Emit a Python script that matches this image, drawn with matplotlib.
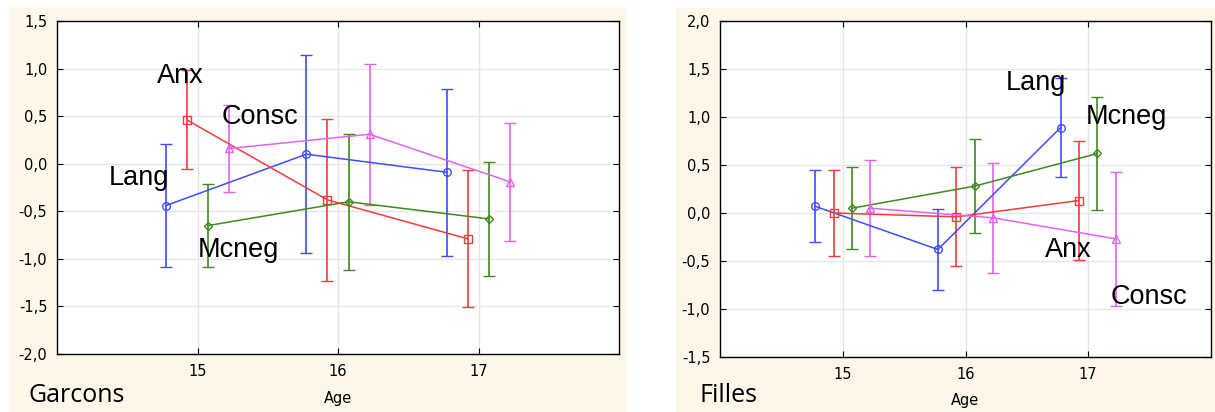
import numpy as np
import matplotlib
matplotlib.use("Agg")
import matplotlib.pyplot as plt
from matplotlib.patches import Rectangle
from matplotlib.ticker import FuncFormatter

# data: means and half-widths of the error bars
ages = [15, 16, 17]
series = ["Lang", "Anx", "Mcneg", "Consc"]

garcons_mean = {
    "Lang":  [-0.44, 0.10, -0.09],
    "Anx":   [0.46, -0.38, -0.79],
    "Mcneg": [-0.65, -0.40, -0.58],
    "Consc": [0.16, 0.31, -0.19],
}
garcons_err = {
    "Lang":  [0.645, 1.04, 0.875],
    "Anx":   [0.52, 0.85, 0.72],
    "Mcneg": [0.44, 0.715, 0.60],
    "Consc": [0.455, 0.74, 0.62],
}
filles_mean = {
    "Lang":  [0.07, -0.38, 0.89],
    "Anx":   [0.00, -0.04, 0.13],
    "Mcneg": [0.05, 0.28, 0.62],
    "Consc": [0.05, -0.05, -0.27],
}
filles_err = {
    "Lang":  [0.375, 0.425, 0.515],
    "Anx":   [0.45, 0.515, 0.62],
    "Mcneg": [0.43, 0.49, 0.59],
    "Consc": [0.50, 0.575, 0.70],
}

colors = {"Lang": "#3f4cff", "Anx": "#f03c3c", "Mcneg": "#3f8a1e", "Consc": "#e462f2"}
markers = {"Lang": "o", "Anx": "s", "Mcneg": "D", "Consc": "^"}
msize = {"Lang": 5.5, "Anx": 5.5, "Mcneg": 4, "Consc": 5.5}
offsets = {"Lang": -0.225, "Anx": -0.075, "Mcneg": 0.075, "Consc": 0.225}

garcons_labels = {"Anx": (14.71, 0.92), "Consc": (15.17, 0.49),
                  "Lang": (14.37, -0.15), "Mcneg": (15.0, -0.91)}
filles_labels = {"Lang": (16.33, 1.35), "Mcneg": (16.98, 1.0),
                 "Anx": (16.65, -0.385), "Consc": (17.18, -0.87)}

cream = "#fdf7ea"
W, H = 1215, 412
fig = plt.figure(figsize=(W / 100, H / 100), dpi=100)
fig.patch.set_facecolor("white")

# cream panels behind each chart
fig.patches.append(Rectangle((9 / W, 0), (625 - 9) / W, 1 - 7 / H,
                             transform=fig.transFigure, color=cream, zorder=-10))
fig.patches.append(Rectangle((676 / W, 0), (1215 - 676) / W, 1 - 8 / H,
                             transform=fig.transFigure, color=cream, zorder=-10))

comma = FuncFormatter(lambda v, p: f"{v:.1f}".replace(".", ","))


def draw(ax, means, errs, labels, ylim, yticks):
    ax.set_facecolor("white")
    for s in series:
        x = np.array(ages) + offsets[s]
        ax.errorbar(x, means[s], yerr=errs[s], color=colors[s], lw=1.1,
                    elinewidth=1.2, capsize=4.5, capthick=1.2,
                    marker=markers[s], ms=msize[s], mfc="none",
                    mec=colors[s], mew=1.0, zorder=3)
    for s, (tx, ty) in labels.items():
        ax.text(tx, ty, s, fontsize=19.5, family="Liberation Sans",
                va="center", ha="left", color="black", zorder=5)
    ax.set_xlim(14, 18)
    ax.set_ylim(*ylim)
    ax.set_xticks(ages)
    ax.set_yticks(yticks)
    ax.yaxis.set_major_formatter(comma)
    ax.grid(True, color="#e6e6e6", lw=1.0, zorder=0)
    ax.set_axisbelow(True)
    ax.tick_params(direction="in", top=True, right=True, length=4,
                   labelsize=10.5, pad=7)
    for lab in ax.get_xticklabels() + ax.get_yticklabels():
        lab.set_family("DejaVu Sans")
    for sp in ax.spines.values():
        sp.set_color("black")
        sp.set_linewidth(1.0)


ax1 = fig.add_axes([57 / W, 1 - 354 / H, (619 - 57) / W, (354 - 21) / H])
draw(ax1, garcons_mean, garcons_err, garcons_labels, (-2.0, 1.5),
     np.arange(-2.0, 1.51, 0.5))

ax2 = fig.add_axes([720 / W, 1 - 357 / H, (1211 - 720) / W, (357 - 21) / H])
draw(ax2, filles_mean, filles_err, filles_labels, (-1.5, 2.0),
     np.arange(-1.5, 2.01, 0.5))

fig.text(28 / W, 1 - 396 / H, "Garcons", fontsize=18, family="Open Sans",
         va="center", ha="left")
fig.text(338 / W, 1 - 398 / H, "Age", fontsize=10.5, family="DejaVu Sans",
         va="center", ha="center")
fig.text(700 / W, 1 - 395 / H, "Filles", fontsize=18, family="Open Sans",
         va="center", ha="left")
fig.text(965 / W, 1 - 401 / H, "Age", fontsize=10.5, family="DejaVu Sans",
         va="center", ha="center")

fig.savefig("out.png", dpi=100)
